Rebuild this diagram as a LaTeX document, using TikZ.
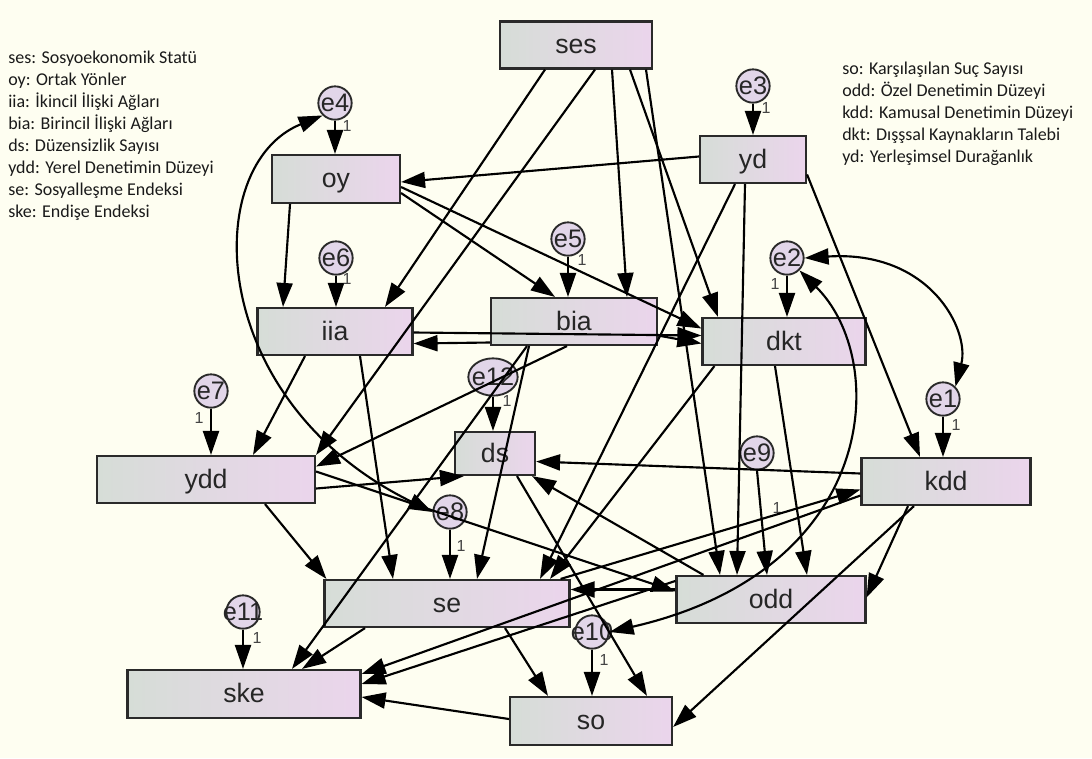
\documentclass[tikz,border=0pt]{standalone}
\usepackage{fontspec}
\setmainfont{Liberation Sans}
\newfontfamily\legfont{Carlito}
\usetikzlibrary{arrows.meta,calc,shapes.geometric}
\definecolor{bgc}{HTML}{FEFEF1}
\definecolor{boxL}{HTML}{D6DDD7}
\definecolor{boxR}{HTML}{EBD5EC}
\definecolor{boxline}{HTML}{2A2A2A}
\definecolor{circc}{HTML}{E2D6E9}
\definecolor{legc}{HTML}{1A1A1A}
\definecolor{onec}{HTML}{444444}
\tikzset{
  box/.style={draw=boxline, line width=1.6pt, left color=boxL, right color=boxR,
    minimum height=35.25pt, inner sep=0pt, text height=13pt, text depth=0pt,
    font=\fontsize{20}{24}\selectfont, text=black!85},
  errc/.style={circle, draw=boxline, line width=1.4pt, fill=circc, minimum size=25pt, inner sep=0pt},
  erre/.style={ellipse, draw=boxline, line width=1.4pt, fill=circc, minimum width=37pt, minimum height=28pt, inner sep=0pt},
  etext/.style={font=\fontsize{19}{22}\selectfont, inner sep=0pt, text=black!85},
  one/.style={font=\fontsize{12}{13}\selectfont, inner sep=0pt, text=onec},
  arr/.style={line width=1.6pt, -{Triangle[length=18pt,width=12pt]}},
  arrb/.style={line width=1.6pt, {Triangle[length=18pt,width=12pt]}-{Triangle[length=18pt,width=12pt]}},
  leg/.style={font=\legfont\fontsize{13.5}{16.5}\selectfont, text=legc, align=left, inner sep=0pt, anchor=north west}
}
\begin{document}
\begin{tikzpicture}[x=0.75pt,y=-0.75pt]
\fill[bgc] (0,0) rectangle (1092,758);
\useasboundingbox (0,0) rectangle (1092,758);

% legends
\node[leg] (legL) at (8,51) {ses: Sosyoekonomik Statü\\oy: Ortak Yönler\\iia: İkincil İlişki Ağları\\bia: Birincil İlişki Ağları\\ds: Düzensizlik Sayısı\\ydd: Yerel Denetimin Düzeyi\\se: Sosyalleşme Endeksi\\ske: Endişe Endeksi};
\node[leg] (legR) at (842,62) {so: Karşılaşılan Suç Sayısı\\odd: Özel Denetimin Düzeyi\\kdd: Kamusal Denetimin Düzeyi\\dkt: Dışşsal Kaynakların Talebi\\yd: Yerleşimsel Durağanlık};

% boxes
\node[box, minimum width=114pt] (ses) at (576,45) {ses};
\node[box, minimum width=79.5pt] (yd) at (753,159.5) {yd};
\node[box, minimum width=96pt, minimum height=36pt] (oy) at (336,179) {oy};
\node[box, minimum width=116.25pt] (iia) at (335,331.5) {iia};
\node[box, minimum width=124.5pt] (bia) at (574,321.5) {bia};
\node[box, minimum width=122.25pt] (dkt) at (784,341.5) {dkt};
\node[box, minimum width=163.5pt] (ydd) at (206,479.5) {ydd};
\node[box, minimum width=60pt, minimum height=32.25pt] (ds) at (495,453.5) {ds};
\node[box, minimum width=126.75pt] (kdd) at (946,481.5) {kdd};
\node[box, minimum width=183.75pt] (se) at (447,603.5) {se};
\node[box, minimum width=141.75pt] (odd) at (771,599.5) {odd};
\node[box, minimum width=174.75pt, minimum height=36pt] (ske) at (244,694) {ske};
\node[box, minimum width=121.5pt, minimum height=36pt] (so) at (591,721) {so};

% error terms
\node[errc] (e4) at (335,103) {};   \node[etext] (e4t) at (e4) {e4};
\node[errc] (e3) at (753,86) {};    \node[etext] (e3t) at (e3) {e3};
\node[errc] (e6) at (336,258) {};   \node[etext] (e6t) at (e6) {e6};
\node[errc] (e5) at (568,239) {};   \node[etext] (e5t) at (e5) {e5};
\node[errc] (e2) at (787,258) {};   \node[etext] (e2t) at (e2) {e2};
\node[erre] (e12) at (493,377) {};  \node[etext] (e12t) at (e12) {e12};
\node[errc] (e7) at (211,391) {};   \node[etext] (e7t) at (e7) {e7};
\node[errc] (e1) at (943,399) {};   \node[etext] (e1t) at (e1) {e1};
\node[errc] (e9) at (757,453) {};   \node[etext] (e9t) at (e9) {e9};
\node[errc] (e8) at (450,512) {};   \node[etext] (e8t) at (e8) {e8};
\node[errc] (e11) at (243,612) {};  \node[etext] (e11t) at (e11) {e11};
\node[errc] (e10) at (592,632) {};  \node[etext] (e10t) at (e10) {e10};

% error arrows
\draw[arr] (e4.south) -- (e4.south |- oy.north);
\draw[arr] (e3.south) -- (e3.south |- yd.north);
\draw[arr] (e6.south) -- (e6.south |- iia.north);
\draw[arr] (e5.south) -- (e5.south |- bia.north);
\draw[arr] (e2.south) -- (e2.south |- dkt.north);
\draw[arr] (e12.south) -- (e12.south |- ds.north);
\draw[arr] (e7.south) -- (e7.south |- ydd.north);
\draw[arr] (e1.south) -- (e1.south |- kdd.north);
\draw[arr] (e9.south) -- ($(odd.north)+(-4,0)$);
\draw[arr] (e8.south) -- (e8.south |- se.north);
\draw[arr] (e11.south) -- (e11.south |- ske.north);
\draw[arr] (e10.south) -- (e10.south |- so.north);

% "1" labels
\node[one] (o4) at (347,126) {1};
\node[one] (o3) at (766,108) {1};
\node[one] (o6) at (347,279) {1};
\node[one] (o5) at (582,260) {1};
\node[one] (o2) at (775,284) {1};
\node[one] (o12) at (507,401) {1};
\node[one] (o7) at (199,418) {1};
\node[one] (o1) at (956,425) {1};
\node[one] (o9) at (777,508) {1};
\node[one] (o8) at (461,546) {1};
\node[one] (o11) at (257,638) {1};
\node[one] (o10) at (604,660) {1};

% structural paths
\draw[arr] ($(ses.south)+(-31,0)$) -- ($(iia.north)+(50,0)$);
\draw[arr] ($(ses.south)+(19,0)$) -- (ydd.north east);
\draw[arr] ($(ses.south)+(36,0)$) -- ($(bia.north)+(53,0)$);
\draw[arr] ($(ses.south)+(54,0)$) -- ($(dkt.north)+(-66,0)$);
\draw[arr] ($(ses.south)+(70,0)$) -- ($(odd.north)+(-51,0)$);
\draw[arr] ($(yd.west)+(0,-3)$) -- ($(oy.east)+(0,3)$);
\draw[arr] ($(yd.east)+(0,15)$) -- ($(kdd.north)+(-26,0)$);
\draw[arr] ($(yd.south)+(-8,0)$) -- ($(odd.north)+(-34,0)$);
\draw[arr] ($(yd.south)+(-18,0)$) -- ($(se.north)+(93,0)$);
\draw[arr] ($(oy.south)+(-46,0)$) -- ($(iia.north)+(-52,0)$);
\draw[arr] ($(oy.east)+(0,14)$) -- ($(bia.north)+(-19,0)$);
\draw[arr] ($(oy.east)+(0,8)$) -- ($(dkt.west)+(0,-13)$);
\draw[arr] ($(iia.east)+(0,1)$) -- ($(dkt.west)+(0,-6)$);
\draw[arr] ($(bia.west)+(0,21)$) -- ($(iia.east)+(0,12)$);
\draw[arr] ($(bia.east)+(0,14)$) -- ($(dkt.west)+(0,2)$);
\draw[arr] ($(iia.south)+(-30,0)$) -- ($(ydd.north)+(47,0)$);
\draw[arr] ($(iia.south)+(25,0)$) -- ($(se.north)+(-54,0)$);
\draw[arr] ($(bia.south)+(-7,0)$) -- ($(ydd.east)+(0,-13)$);
\draw[arr] ($(bia.south)+(-47,0)$) -- ($(ske.north)+(48,0)$);
\draw[arr] ($(bia.south)+(-45,0)$) -- ($(se.north)+(30,0)$);
\draw[arr] ($(ydd.south)+(59,0)$) -- ($(se.north west)+(3,0)$);
\draw[arr] ($(ydd.east)+(0,9)$) -- ($(ds.south west)+(10,0)$);
\draw[arr] ($(ydd.east)+(0,-8)$) -- ($(odd.west)+(0,-8)$);
\draw[arr] ($(kdd.west)+(0,-8)$) -- ($(ds.east)+(0,8)$);
\draw[arr] ($(odd.north west)+(28,0)$) -- ($(ds.south east)+(-4,0)$);
\draw[arr] ($(ds.south)+(22,0)$) -- ($(so.north)+(56,0)$);
\draw[arr] ($(kdd.south)+(-38,0)$) -- ($(odd.east)+(0,-2)$);
\draw[arr] ($(kdd.south)+(-32,0)$) -- ($(so.east)+(0,6)$);
\draw[arr] ($(se.north east)+(-10,0)$) -- ($(kdd.west)+(0,8)$);
\draw[arr] ($(kdd.west)+(0,14)$) -- ($(ske.east)+(0,-20)$);
\draw[arr] ($(odd.north west)+(0,6)$) -- ($(ske.east)+(0,-10)$);
\draw[arr] ($(odd.west)+(0,-10)$) -- ($(se.east)+(0,-14)$);
\draw[arr] ($(se.south)+(58,0)$) -- ($(so.north)+(-43,0)$);
\draw[arr] ($(se.south)+(-82,0)$) -- ($(ske.north)+(58,0)$);
\draw[arr] ($(so.west)+(0,-2)$) -- ($(ske.east)+(0,3)$);
\draw[arr] ($(dkt.south)+(-9,0)$) -- ($(odd.north)+(36,0)$);
\draw[arr] ($(dkt.south west)+(13,0)$) -- ($(se.north)+(103,0)$);

% covariances
\draw[arrb] (e4.south west) .. controls (200,165) and (205,400) .. (e8.west);
\draw[arrb] (e2.east) .. controls (930,250) and (970,330) .. (e1.north east);
\draw[arrb] (e2.south east) .. controls (890,360) and (880,570) .. (e10.east);
\end{tikzpicture}
\end{document}
